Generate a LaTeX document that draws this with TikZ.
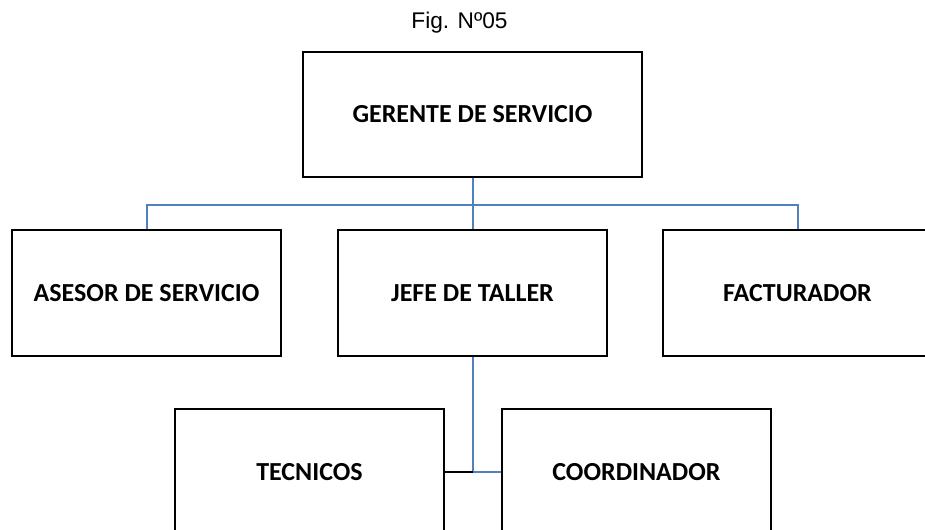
\documentclass[tikz,border=0pt]{standalone}
\usepackage{fontspec}
\setmainfont{Liberation Sans}
\newfontfamily\carlito{Carlito}
\usetikzlibrary{positioning}
\definecolor{linkblue}{HTML}{4F81BD}

\begin{document}
\begin{tikzpicture}[x=0.75pt,y=-0.75pt,
    box/.style={draw,line width=1.5pt,minimum width=201.75pt,minimum height=94.5pt,
                font=\carlito\bfseries\fontsize{19.5}{22}\selectfont},
    link/.style={draw=linkblue,line width=1.5pt}]
            \useasboundingbox (0,0) rectangle (925,529);
            \clip (0,0) rectangle (925,529);
            \node[box,minimum width=254.25pt,minimum height=93.75pt] (ger) at (472.5,114.5) {GERENTE DE SERVICIO};
            \node[font=\fontsize{17}{20}\selectfont] (fig) [above=10pt of ger,xshift=-9.75pt] {Fig. Nº05};
            \node[box] (jefe)   [below=38.25pt of ger]           {JEFE DE TALLER};
            \node[box] (asesor) [left=41.25pt of jefe]           {ASESOR DE SERVICIO};
            \node[box] (fact)   [right=40.5pt of jefe]           {FACTURADOR};
            \node[box] (tec)    [below=38.25pt of jefe,xshift=-122.25pt] {TECNICOS};
            \node[box] (coord)  [right=42pt of tec]              {COORDINADOR};
            \coordinate[below=20.25pt of ger.south] (bus);
            \coordinate (mid) at (jefe.south |- tec.east);
            \path[link] (ger) -- (jefe)
                        (asesor.north) |- (bus) -| (fact.north)
                        (jefe.south) -- (mid) -- (coord.west);
            \draw[line width=1.5pt] (tec.east) -- (mid);
        \end{tikzpicture}
\end{document}
